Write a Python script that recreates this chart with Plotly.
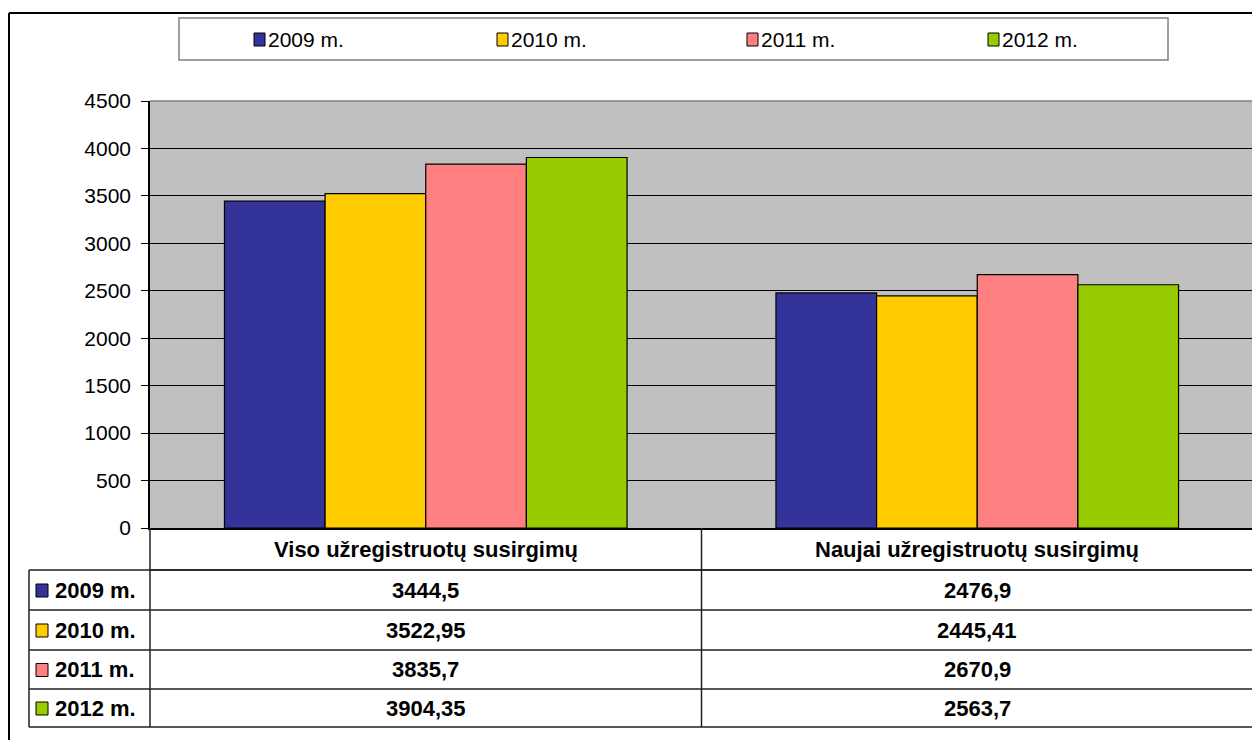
import plotly.graph_objects as go

# ---- data ----
categories = ["Viso užregistruotų susirgimų", "Naujai užregistruotų susirgimų"]
years = ["2009 m.", "2010 m.", "2011 m.", "2012 m."]
v2009 = [3444.5, 2476.9]
v2010 = [3522.95, 2445.41]
v2011 = [3835.7, 2670.9]
v2012 = [3904.35, 2563.7]
colors = ["#333399", "#FFCC00", "#FF8080", "#99CC00"]
y_ticks = [0, 500, 1000, 1500, 2000, 2500, 3000, 3500, 4000, 4500]

series = [v2009, v2010, v2011, v2012]

OFF = 8  # page body margin of the browser
W, H = 1260 - OFF, 740 - OFF
L, R, T, B = 150, 1253, 101, 528  # plot area in screen pixels
FONT = "Arial, Liberation Sans, sans-serif"


def px(x):
    return (x - L) / (R - L)


def py(y):
    return (B - y) / (B - T)


fig = go.Figure()
for name, vals, col in zip(years, series, colors):
    fig.add_trace(go.Bar(
        x=categories, y=vals, name=name,
        marker=dict(color=col, line=dict(color="black", width=1.2)),
        showlegend=False,
    ))

shapes = []
annotations = []

# plot area gray border (top / right)
shapes.append(dict(type="line", xref="paper", yref="paper", x0=0, x1=1, y0=1, y1=1,
                   line=dict(color="#808080", width=1.5)))
shapes.append(dict(type="line", xref="paper", yref="paper", x0=1, x1=1, y0=0, y1=1,
                   line=dict(color="#808080", width=1.5)))

# outer frame (left / top)
shapes.append(dict(type="line", xref="paper", yref="paper", x0=px(9), x1=px(1275),
                   y0=py(13), y1=py(13), line=dict(color="black", width=2)))
shapes.append(dict(type="line", xref="paper", yref="paper", x0=px(9), x1=px(9),
                   y0=py(13), y1=py(760), line=dict(color="black", width=2)))

# legend box
shapes.append(dict(type="rect", xref="paper", yref="paper", x0=px(179), x1=px(1168),
                   y0=py(60), y1=py(18), line=dict(color="#808080", width=1.5),
                   fillcolor="white"))
leg_x = [254, 497, 747, 988]
for lx, name, col in zip(leg_x, years, colors):
    shapes.append(dict(type="rect", xref="paper", yref="paper", x0=px(lx), x1=px(lx + 11),
                       y0=py(46), y1=py(33), line=dict(color="black", width=1),
                       fillcolor=col))
    annotations.append(dict(xref="paper", yref="paper", x=px(lx + 12), y=py(39),
                            text=name, showarrow=False, xanchor="left", yanchor="middle",
                            font=dict(family=FONT, size=21, color="black")))

# data table
row_lines = [570, 610, 650, 689, 727]
line_col = "#202020"
shapes.append(dict(type="line", xref="paper", yref="paper", x0=px(L), x1=px(R),
                   y0=py(row_lines[0]), y1=py(row_lines[0]), line=dict(color=line_col, width=1.5)))
for yl in row_lines:
    shapes.append(dict(type="line", xref="paper", yref="paper", x0=px(29), x1=px(R),
                       y0=py(yl), y1=py(yl), line=dict(color=line_col, width=1.5)))
mid = (L + R) / 2
for xl, ytop in [(L, B), (mid, B), (R, B), (29, row_lines[0])]:
    shapes.append(dict(type="line", xref="paper", yref="paper", x0=px(xl), x1=px(xl),
                       y0=py(ytop), y1=py(row_lines[-1]), line=dict(color=line_col, width=1.5)))

TS = 22
# header
for cat in categories:
    annotations.append(dict(xref="x", yref="paper", x=cat, y=py((B + row_lines[0]) / 2),
                            text="<b>%s</b>" % cat, showarrow=False, yanchor="middle",
                            font=dict(family=FONT, size=TS, color="black")))

# rows
for i, (name, vals, col) in enumerate(zip(years, series, colors)):
    yc = (row_lines[i] + row_lines[i + 1]) / 2
    shapes.append(dict(type="rect", xref="paper", yref="paper", x0=px(36), x1=px(48),
                       y0=py(yc + 7), y1=py(yc - 6), line=dict(color="black", width=1),
                       fillcolor=col))
    annotations.append(dict(xref="paper", yref="paper", x=px(53), y=py(yc),
                            text="<b>%s</b>" % name, showarrow=False, xanchor="left",
                            yanchor="middle", font=dict(family=FONT, size=TS, color="black")))
    for cat, v in zip(categories, vals):
        annotations.append(dict(xref="x", yref="paper", x=cat, y=py(yc),
                                text="<b>%s</b>" % str(v).replace(".", ","), showarrow=False,
                                yanchor="middle", font=dict(family=FONT, size=TS, color="black")))

fig.update_layout(
    width=W, height=H,
    margin=dict(l=L - OFF, r=W - (R - OFF), t=T - OFF, b=H - (B - OFF), pad=0),
    paper_bgcolor="white", plot_bgcolor="#C0C0C0",
    barmode="group", bargap=0.27, bargroupgap=0,
    font=dict(family=FONT, size=20, color="black"),
    shapes=shapes, annotations=annotations,
    showlegend=False,
)
fig.update_xaxes(showticklabels=False, showgrid=False, zeroline=False,
                 showline=True, linecolor="black", linewidth=2)
fig.update_yaxes(range=[0, 4500], tickvals=y_ticks, ticks="outside", ticklen=7,
                 tickcolor="black", showgrid=True, gridcolor="black", gridwidth=1,
                 showline=True, linecolor="black", linewidth=1.5, zeroline=False,
                 tickfont=dict(family=FONT, size=21, color="black"), ticklabelstandoff=6)

fig.write_html("out.html")
